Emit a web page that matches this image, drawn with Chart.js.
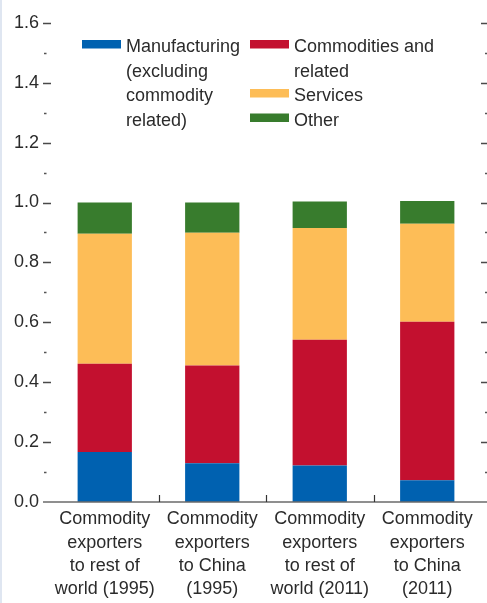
<!DOCTYPE html>
<html>
<head>
<meta charset="utf-8">
<script src="https://cdn.jsdelivr.net/npm/chart.js@4"></script>
<style>
  html, body { margin: 0; padding: 0; background: #fff; }
  #wrap { width: 487px; height: 603px; }
</style>
</head>
<body>
<div id="wrap"><canvas id="chart" width="487" height="603"></canvas></div>
<script>
// data (shares of exports)
const categories = [
  ['Commodity', 'exporters', 'to rest of', 'world (1995)'],
  ['Commodity', 'exporters', 'to China', '(1995)'],
  ['Commodity', 'exporters', 'to rest of', 'world (2011)'],
  ['Commodity', 'exporters', 'to China', '(2011)']
];
const manufacturing = [0.167, 0.129, 0.122, 0.073];
const commodities = [0.295, 0.327, 0.420, 0.529];
const services = [0.434, 0.443, 0.373, 0.327];
const other = [0.104, 0.101, 0.088, 0.076];
const seriesLabels = [
  ['Manufacturing', '(excluding', 'commodity', 'related)'],
  ['Commodities and', 'related'],
  ['Services'],
  ['Other']
];
const seriesColors = ['#0061b0', '#c3102f', '#fdbd57', '#387c2d'];
const yMin = 0, yMax = 1.6, yStep = 0.1;

const FONT = '"Liberation Sans Narrow", "Liberation Sans", Arial, sans-serif';
const TXT = '#2b2b2b';

// ticks, axis line, category separators, legend
const decor = {
  id: 'decor',
  beforeDraw(chart) {
    const ctx = chart.ctx;
    ctx.save();
    ctx.fillStyle = '#dfe6f1';
    ctx.fillRect(0, 0, 2, chart.height);
    ctx.restore();
  },
  afterDatasetsDraw(chart) {
    const ctx = chart.ctx;
    const { left, right, bottom } = chart.chartArea;
    const y = chart.scales.y, x = chart.scales.x;
    ctx.save();
    // y ticks on both sides
    for (let i = 0; i <= Math.round((yMax - yMin) / yStep); i++) {
      const v = yMin + i * yStep;
      const py = Math.round(y.getPixelForValue(v)) + 0.5;
      if (i === 0) continue;
      const major = i % 2 === 0;
      ctx.strokeStyle = major ? '#4a4a4a' : '#555';
      ctx.lineWidth = 1.5;
      ctx.beginPath();
      if (major) {
        ctx.moveTo(left - 8, py); ctx.lineTo(left, py);
        ctx.moveTo(right, py); ctx.lineTo(right + 6, py);
      } else {
        ctx.moveTo(left - 7, py); ctx.lineTo(left - 4.5, py);
        ctx.moveTo(right + 4, py); ctx.lineTo(right + 6, py);
      }
      ctx.stroke();
    }
    // x axis line
    const py0 = y.getPixelForValue(0);
    ctx.strokeStyle = '#6a6a6a';
    ctx.lineWidth = 1.6;
    ctx.beginPath();
    ctx.moveTo(left - 8, py0); ctx.lineTo(chart.width, py0);
    ctx.stroke();
    // category separators
    ctx.strokeStyle = '#333';
    ctx.lineWidth = 1.2;
    for (let i = 1; i < categories.length; i++) {
      const px = Math.round((x.getPixelForValue(i - 1) + x.getPixelForValue(i)) / 2) + 0.5;
      ctx.beginPath();
      ctx.moveTo(px, py0 - 7); ctx.lineTo(px, py0);
      ctx.stroke();
    }
    // legend in two columns
    const cols = [
      { sx: 82, tx: 126, items: [0] },
      { sx: 250, tx: 294, items: [1, 2, 3] }
    ];
    const lh = 24.5;
    ctx.font = '18px ' + FONT;
    ctx.textBaseline = 'alphabetic';
    ctx.textAlign = 'left';
    cols.forEach(col => {
      let base = 52;
      col.items.forEach(k => {
        ctx.fillStyle = seriesColors[k];
        ctx.fillRect(col.sx, base - 12, 39, 8.5);
        ctx.fillStyle = TXT;
        seriesLabels[k].forEach((line, j) => {
          ctx.fillText(line, col.tx, base + j * lh);
        });
        base += seriesLabels[k].length * lh;
      });
    });
    ctx.restore();
  }
};

const seriesData = [manufacturing, commodities, services, other];

new Chart(document.getElementById('chart'), {
  type: 'bar',
  data: {
    labels: categories,
    datasets: seriesData.map((d, k) => ({
      label: seriesLabels[k].join(' '),
      data: d,
      backgroundColor: seriesColors[k],
      borderWidth: 0,
      categoryPercentage: 1,
      barPercentage: 0.505
    }))
  },
  options: {
    responsive: false,
    animation: false,
    layout: { padding: { top: 21, right: 6, left: 0, bottom: 0 } },
    plugins: { legend: { display: false }, tooltip: { enabled: false } },
    scales: {
      x: {
        stacked: true,
        grid: { display: false, drawTicks: false },
        border: { display: false },
        ticks: {
          color: TXT,
          font: { family: FONT, size: 18, lineHeight: 1.28 },
          padding: 6,
          maxRotation: 0,
          autoSkip: false
        },
        afterFit(s) { s.height = 101; }
      },
      y: {
        stacked: true,
        min: yMin,
        max: yMax,
        grid: { display: false, drawTicks: false },
        border: { display: false },
        ticks: {
          stepSize: 0.2,
          color: TXT,
          font: { family: FONT, size: 18 },
          padding: 12,
          callback: v => Number(v).toFixed(1)
        },
        afterFit(s) { s.width = 51; }
      }
    }
  },
  plugins: [decor]
});
</script>
</body>
</html>
